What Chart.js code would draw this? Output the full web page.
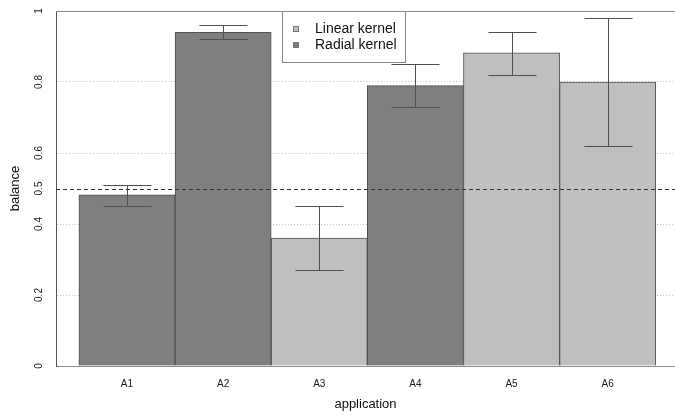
<!DOCTYPE html>
<html>
<head>
<meta charset="utf-8">
<script src="https://cdn.jsdelivr.net/npm/chart.js@4.4.1/dist/chart.umd.min.js"></script>
<style>
  html, body { margin: 0; padding: 0; background: #fff; }
  #wrap { width: 675px; height: 416px; }
</style>
</head>
<body>
<div id="wrap"><canvas id="chart" width="675" height="416"></canvas></div>
<script>
// values
const apps = ['A1', 'A2', 'A3', 'A4', 'A5', 'A6'];
const kernel = ['radial', 'radial', 'linear', 'radial', 'linear', 'linear'];
const balance = [0.482, 0.94, 0.36, 0.79, 0.882, 0.80];
const errLow = [0.451, 0.921, 0.27, 0.73, 0.821, 0.62];
const errHigh = [0.511, 0.96, 0.45, 0.85, 0.941, 0.98];
const yTicks = [0, 0.2, 0.4, 0.5, 0.6, 0.8, 1];
const refLine = 0.5;

const colors = { linear: '#bfbfbf', radial: '#7f7f7f' };
const FONT = '"Liberation Sans", Arial, Helvetica, sans-serif';

const points = apps.map(function(a, i) { return { x: i + 1, y: balance[i] }; });

// error bars, reference line, frame and legend
const extras = {
  id: 'extras',
  beforeDatasetsDraw(chart) {
    const ctx = chart.ctx, a = chart.chartArea, y = chart.scales.y;
    ctx.save();
    ctx.strokeStyle = '#8a8a8a';
    ctx.lineWidth = 1;
    ctx.beginPath();
    ctx.moveTo(a.left, Math.round(y.getPixelForValue(1)) + 0.5);
    ctx.lineTo(a.right, Math.round(y.getPixelForValue(1)) + 0.5);
    ctx.stroke();
    ctx.restore();
  },
  afterDatasetsDraw(chart) {
    const ctx = chart.ctx, a = chart.chartArea;
    const y = chart.scales.y;
    const meta = chart.getDatasetMeta(0);
    ctx.save();
    ctx.strokeStyle = '#505050';
    ctx.lineWidth = 1;
    meta.data.forEach(function(bar, i) {
      const cx = Math.round(bar.x) + 0.5;
      const half = bar.width / 4;
      const yl = Math.round(y.getPixelForValue(errLow[i])) + 0.5;
      const yh = Math.round(y.getPixelForValue(errHigh[i])) + 0.5;
      ctx.beginPath();
      ctx.moveTo(cx, yl); ctx.lineTo(cx, yh);
      ctx.moveTo(cx - half, yl); ctx.lineTo(cx + half, yl);
      ctx.moveTo(cx - half, yh); ctx.lineTo(cx + half, yh);
      ctx.stroke();
    });
    // dashed line at 0.5
    const yr = Math.round(y.getPixelForValue(refLine)) + 0.5;
    ctx.strokeStyle = '#333';
    ctx.setLineDash([4, 3]);
    ctx.beginPath();
    ctx.moveTo(a.left, yr); ctx.lineTo(a.right, yr);
    ctx.stroke();
    ctx.setLineDash([]);

    // legend box
    const lx = a.left + 226, ly = a.top, lw = 123, lh = 51;
    ctx.fillStyle = '#fff';
    ctx.fillRect(lx, ly, lw, lh);
    ctx.strokeStyle = '#888';
    ctx.strokeRect(lx + 0.5, ly + 0.5, lw, lh);
    const items = [['Linear kernel', colors.linear], ['Radial kernel', colors.radial]];
    ctx.font = '14px ' + FONT;
    ctx.textBaseline = 'middle';
    items.forEach(function(it, k) {
      const iy = ly + 18 + k * 16;
      ctx.fillStyle = it[1];
      ctx.fillRect(lx + 11, iy - 3, 6, 6);
      ctx.strokeStyle = '#777';
      ctx.strokeRect(lx + 11.5, iy - 2.5, 5, 5);
      ctx.fillStyle = '#111';
      ctx.fillText(it[0], lx + 33, iy);
    });
    ctx.restore();
  }
};

new Chart(document.getElementById('chart'), {
  type: 'bar',
  data: {
    datasets: [{
      data: points,
      backgroundColor: kernel.map(function(k) { return colors[k]; }),
      borderColor: '#505050',
      borderWidth: 1,
      barPercentage: 1,
      categoryPercentage: 1
    }]
  },
  options: {
    responsive: false,
    animation: false,
    layout: { padding: { top: 11, right: 0, left: 0, bottom: 0 } },
    plugins: { legend: { display: false }, tooltip: { enabled: false } },
    scales: {
      x: {
        type: 'linear',
        offset: false,
        min: 0.262,
        max: 6.7,
        afterBuildTicks(axis) { axis.ticks = apps.map(function(a, i) { return { value: i + 1 }; }); },
        afterFit(axis) { axis.height = 50; axis.paddingLeft = 0; axis.paddingRight = 0; },
        grid: { display: false, drawTicks: false },
        border: { display: true, color: '#8a8a8a' },
        ticks: {
          autoSkip: false,
          maxRotation: 0,
          padding: 12,
          color: '#1a1a1a',
          font: { family: FONT, size: 10 },
          callback: function(v) { return apps[v - 1]; }
        },
        title: {
          display: true,
          text: 'application',
          color: '#111',
          padding: { top: 0, bottom: 4 },
          font: { family: FONT, size: 13 }
        }
      },
      y: {
        min: 0,
        max: 1,
        afterBuildTicks(axis) { axis.ticks = yTicks.map(function(v) { return { value: v }; }); },
        afterFit(axis) { axis.width = 56; axis.paddingTop = 0; axis.paddingBottom = 0; },
        grid: {
          drawTicks: false,
          color: function(c) {
            const v = c.tick ? c.tick.value : null;
            return (v === 0 || v === 1 || v === 0.5) ? 'rgba(0,0,0,0)' : '#c8c8c8';
          }
        },
        border: { display: true, color: '#555', dash: [1, 2] },
        ticks: {
          minRotation: 90,
          maxRotation: 90,
          crossAlign: 'center',
          padding: 10,
          color: '#1a1a1a',
          font: { family: FONT, size: 10 },
          callback: function(v) { return String(v); }
        },
        title: {
          display: true,
          text: 'balance',
          color: '#111',
          padding: { top: 8, bottom: 0 },
          font: { family: FONT, size: 13 }
        }
      }
    }
  },
  plugins: [extras]
});
</script>
</body>
</html>
